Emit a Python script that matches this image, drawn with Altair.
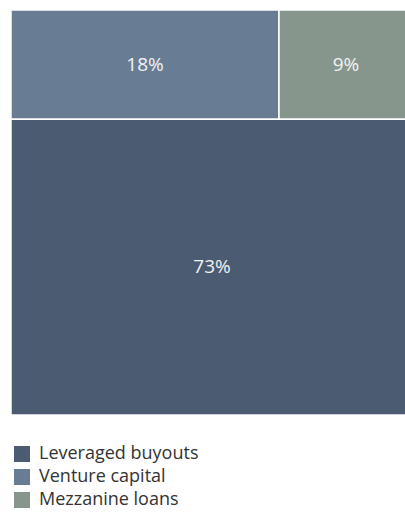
import altair as alt
import pandas as pd

categories = ["Leveraged buyouts", "Venture capital", "Mezzanine loans"]
values = [73, 18, 9]
colors = ["#4b5b71", "#687d94", "#87968c"]

# Treemap layout (two rows): top row holds the two smaller shares, bottom row the largest
top_total = values[1] + values[2]
rows = []
# top row
x0 = 0.0
for cat, v in zip(categories[1:], values[1:]):
    w = v / top_total
    rows.append(dict(cat=cat, val=v, x=x0, x2=x0 + w, y=0, y2=top_total))
    x0 += w
# bottom row
rows.append(dict(cat=categories[0], val=values[0], x=0.0, x2=1.0, y=top_total, y2=100))
df = pd.DataFrame(rows)
df["label"] = df["val"].astype(str) + "%"
df["xm"] = (df["x"] + df["x2"]) / 2
df["ym"] = (df["y"] + df["y2"]) / 2

xs = alt.Scale(domain=[0, 1], range=[11, 413])
ys = alt.Scale(domain=[0, 100], range=[10, 415])

base = alt.Chart(df)
rects = base.mark_rect(stroke="white", strokeWidth=1.5).encode(
    x=alt.X("x:Q", scale=xs, axis=None),
    x2="x2:Q",
    y=alt.Y("y:Q", scale=ys, axis=None),
    y2="y2:Q",
    color=alt.Color(
        "cat:N",
        scale=alt.Scale(domain=categories, range=colors),
        legend=alt.Legend(
            title=None,
            orient="none",
            legendX=13,
            legendY=445,
            symbolType="square",
            symbolSize=256,
            symbolStrokeWidth=0,
            symbolOpacity=1,
            labelFontSize=18,
            labelFont="Open Sans",
            labelColor="#333333",
            labelOffset=8,
            rowPadding=5,
            padding=0,
            labelLimit=400,
        ),
    ),
)
labels = base.mark_text(
    font="Open Sans", fontSize=19, color="#f2f2f2", baseline="middle", align="center"
).encode(
    x=alt.X("xm:Q", scale=xs),
    y=alt.Y("ym:Q", scale=ys),
    text="label:N",
)

chart = (
    alt.layer(rects, labels)
    .properties(width=405, height=512, autosize=alt.AutoSizeParams(type="none"), padding=0)
    .configure_view(stroke=None)
)
chart.save("out.html", embed_options={"renderer": "svg", "actions": False})
